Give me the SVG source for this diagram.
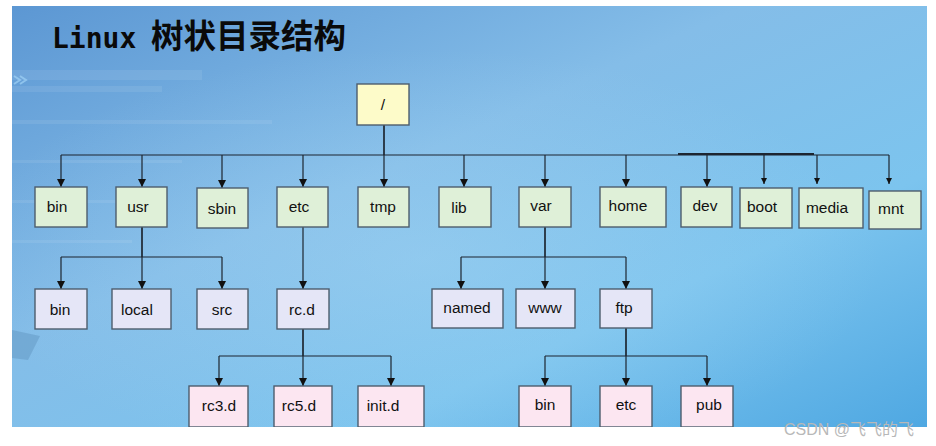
<svg xmlns="http://www.w3.org/2000/svg" width="936" height="446" viewBox="0 0 936 446">
<defs>
<linearGradient id="bg" x1="0" y1="0" x2="1" y2="1">
<stop offset="0" stop-color="#5c97d3"/>
<stop offset="0.4" stop-color="#84bde8"/>
<stop offset="0.7" stop-color="#7cc4ee"/>
<stop offset="1" stop-color="#4fa8e2"/>
</linearGradient>
<radialGradient id="glow" cx="0.45" cy="0.6" r="0.5">
<stop offset="0" stop-color="#a8d8f4" stop-opacity="0.4"/>
<stop offset="1" stop-color="#a8d8f4" stop-opacity="0"/>
</radialGradient>
<marker id="arr" markerUnits="userSpaceOnUse" markerWidth="8" markerHeight="8" refX="8" refY="4" orient="auto">
<path d="M0,0 L8,4 L0,8 z" fill="#111"/>
</marker>
<marker id="arrs" markerUnits="userSpaceOnUse" markerWidth="6" markerHeight="6" refX="6" refY="3" orient="auto">
<path d="M0,0 L6,3 L0,6 z" fill="#111"/>
</marker>
</defs>
<style>
.box{stroke:#4d5d6d;stroke-width:1.4}
.root{fill:#fdfbc9}
.l1{fill:#dff0d8}
.l2{fill:#e5e6f7}
.l3{fill:#fce6f1}
.t{font-family:"Liberation Sans",Arial,sans-serif;font-size:15.5px;fill:#111;text-anchor:middle}
.c{fill:none;stroke:#1d2530;stroke-width:1.2}
.ca{fill:none;stroke:#1d2530;stroke-width:1.2;marker-end:url(#arr)}
.cs{fill:none;stroke:#1d2530;stroke-width:1.2;marker-end:url(#arrs)}
</style>
<rect x="0" y="0" width="936" height="446" fill="#ffffff"/>
<rect x="12" y="6" width="915" height="421" fill="url(#bg)"/>
<rect x="12" y="6" width="915" height="421" fill="url(#glow)"/>
<g opacity="0.08" fill="#ffffff">
<rect x="12" y="70" width="190" height="10"/>
<rect x="12" y="86" width="150" height="6"/>
<rect x="12" y="120" width="260" height="4"/>
<rect x="12" y="160" width="170" height="3"/>
<rect x="12" y="200" width="140" height="3"/>
<rect x="12" y="240" width="120" height="3"/>
</g>
<path d="M14,76 L20,80 L14,84 M20,76 L26,80 L20,84" fill="none" stroke="#9fd2f5" stroke-width="2" opacity="0.7"/>
<path d="M12,330 L40,336 L28,360 L12,358 z" fill="#4d7ea8" opacity="0.3"/>

<text x="52" y="48" font-weight="bold" fill="#0a0a0a"><tspan font-size="28" font-family="DejaVu Sans Mono, monospace">Linux</tspan><tspan x="151" font-size="32.5" font-family="Noto Sans CJK SC, sans-serif">树状目录结构</tspan></text>

<g id="connectors">
<path class="c" d="M384,125 V155"/>
<path class="c" d="M61,155 H889"/>
<path d="M678,154 H814" stroke="#1d2530" stroke-width="2.2" fill="none"/>
<path class="ca" d="M61,155 V187"/>
<path class="ca" d="M142,155 V187"/>
<path class="ca" d="M222,155 V188"/>
<path class="ca" d="M303,155 V187"/>
<path class="ca" d="M384,125 V187"/>
<path class="ca" d="M464,155 V187"/>
<path class="ca" d="M545,155 V187"/>
<path class="ca" d="M626,155 V187"/>
<path class="ca" d="M707,155 V187"/>
<path class="cs" d="M764,155 V184"/>
<path class="cs" d="M817,155 V184"/>
<path class="cs" d="M889,155 V184"/>
<path class="c" d="M142,227 V257 M61,257 H222"/>
<path class="ca" d="M61,257 V289"/>
<path class="ca" d="M142,227 V289"/>
<path class="ca" d="M222,257 V289"/>
<path class="ca" d="M303,227 V289"/>
<path class="c" d="M545,227 V257 M461,257 H626"/>
<path class="ca" d="M461,257 V289"/>
<path class="ca" d="M545,227 V289"/>
<path class="ca" d="M626,257 V289"/>
<path class="c" d="M303,329 V356 M219,356 H391"/>
<path class="ca" d="M219,356 V386"/>
<path class="ca" d="M303,329 V386"/>
<path class="ca" d="M391,356 V386"/>
<path class="c" d="M626,328 V356 M545,356 H707"/>
<path class="ca" d="M545,356 V386"/>
<path class="ca" d="M626,328 V386"/>
<path class="ca" d="M707,356 V386"/>
</g>

<g id="root"><rect class="box root" x="357" y="84" width="52" height="41"/><text class="t" x="383" y="110">/</text></g>

<g id="bin"><rect class="box l1" x="35" y="187" width="52" height="40"/><text class="t" x="57" y="212">bin</text></g>
<g id="usr"><rect class="box l1" x="116" y="187" width="51" height="40"/><text class="t" x="138" y="212">usr</text></g>
<g id="sbin"><rect class="box l1" x="197" y="188" width="51" height="40"/><text class="t" x="222" y="214">sbin</text></g>
<g id="etc"><rect class="box l1" x="277" y="187" width="51" height="40"/><text class="t" x="299" y="212">etc</text></g>
<g id="tmp"><rect class="box l1" x="358" y="187" width="51" height="40"/><text class="t" x="383" y="212">tmp</text></g>
<g id="lib"><rect class="box l1" x="439" y="187" width="52" height="40"/><text class="t" x="459" y="213">lib</text></g>
<g id="var"><rect class="box l1" x="519" y="187" width="52" height="40"/><text class="t" x="541" y="211">var</text></g>
<g id="home"><rect class="box l1" x="600" y="187" width="66" height="40"/><text class="t" x="628" y="211">home</text></g>
<g id="dev"><rect class="box l1" x="681" y="187" width="51" height="40"/><text class="t" x="705" y="211">dev</text></g>
<g id="boot"><rect class="box l1" x="740" y="188" width="52" height="40"/><text class="t" x="762" y="212">boot</text></g>
<g id="media"><rect class="box l1" x="799" y="188" width="64" height="40"/><text class="t" x="827" y="213">media</text></g>
<g id="mnt"><rect class="box l1" x="869" y="191" width="52" height="38"/><text class="t" x="891" y="214">mnt</text></g>

<g id="usr-bin"><rect class="box l2" x="35" y="289" width="52" height="40"/><text class="t" x="60" y="315">bin</text></g>
<g id="local"><rect class="box l2" x="112" y="289" width="59" height="40"/><text class="t" x="137" y="315">local</text></g>
<g id="src"><rect class="box l2" x="197" y="289" width="51" height="40"/><text class="t" x="222" y="315">src</text></g>
<g id="rc.d"><rect class="box l2" x="277" y="289" width="52" height="40"/><text class="t" x="302" y="315">rc.d</text></g>
<g id="named"><rect class="box l2" x="432" y="289" width="71" height="39"/><text class="t" x="467" y="313">named</text></g>
<g id="www"><rect class="box l2" x="516" y="289" width="59" height="39"/><text class="t" x="545" y="313">www</text></g>
<g id="ftp"><rect class="box l2" x="600" y="289" width="52" height="39"/><text class="t" x="624" y="313">ftp</text></g>

<g id="rc3.d"><rect class="box l3" x="189" y="386" width="59" height="41"/><text class="t" x="219" y="411">rc3.d</text></g>
<g id="rc5.d"><rect class="box l3" x="274" y="386" width="58" height="41"/><text class="t" x="299" y="411">rc5.d</text></g>
<g id="init.d"><rect class="box l3" x="358" y="386" width="66" height="41"/><text class="t" x="383" y="411">init.d</text></g>
<g id="ftp-bin"><rect class="box l3" x="519" y="386" width="52" height="41"/><text class="t" x="545" y="410">bin</text></g>
<g id="ftp-etc"><rect class="box l3" x="600" y="386" width="52" height="41"/><text class="t" x="626" y="410">etc</text></g>
<g id="pub"><rect class="box l3" x="681" y="386" width="52" height="41"/><text class="t" x="709" y="410">pub</text></g>

<rect x="0" y="427" width="936" height="19" fill="#ffffff"/>
<text x="784" y="435" font-family="Liberation Sans, Noto Sans CJK SC, sans-serif" font-size="16" fill="#b8b8b8">CSDN @飞飞的飞</text>
</svg>
